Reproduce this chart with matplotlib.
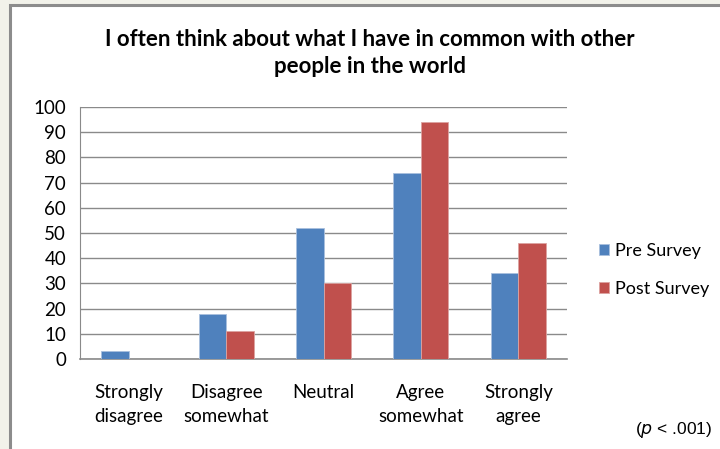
import matplotlib.pyplot as plt
import numpy as np
from matplotlib.patches import Rectangle

categories = ['Strongly\ndisagree', 'Disagree\nsomewhat', 'Neutral', 'Agree\nsomewhat', 'Strongly\nagree']
pre_survey = [3, 18, 52, 74, 34]
post_survey = [0, 11, 30, 94, 46]
yticks = list(range(0, 101, 10))

plt.rcParams['font.family'] = ['Lato', 'DejaVu Sans']

fig = plt.figure(figsize=(7.2, 4.49), dpi=100)
fig.patch.set_facecolor('#f2f2ea')

# white chart panel with grey frame, behind the axes
fig.patches.append(Rectangle((10 / 720, -0.05), 1.0, 1 - 5 / 449 + 0.05,
                             transform=fig.transFigure, facecolor='white',
                             edgecolor='#8c8c8c', linewidth=2.2, zorder=-5))

ax = fig.add_axes([80 / 720, 1 - 359 / 449, 487 / 720, 252 / 449])
ax.set_facecolor('white')

x = np.arange(len(categories))
w = 0.283
ax.bar(x - w / 2, pre_survey, w, color='#4f81bd', edgecolor='#a9c0de', linewidth=0.6,
       label='Pre Survey', zorder=3)
ax.bar(x + w / 2, post_survey, w, color='#c0504d', edgecolor='#dca3a1', linewidth=0.6,
       label='Post Survey', zorder=3)

ax.set_xlim(-0.5, len(categories) - 0.5)
ax.set_ylim(0, 100)
ax.set_yticks(yticks)
ax.set_yticklabels([str(v) for v in yticks], fontsize=13.5)
ax.set_xticks(x)
ax.set_xticklabels(categories, fontsize=13.5, linespacing=1.5)
ax.tick_params(length=0, pad=10)
ax.tick_params(axis='x', pad=18)
ax.yaxis.grid(True, color='#8a8a8a', linewidth=1.0, zorder=1)
ax.set_axisbelow(True)
for s in ['top', 'right']:
    ax.spines[s].set_visible(False)
ax.spines['left'].set_color('#8a8a8a')
ax.spines['bottom'].set_color('#8a8a8a')
ax.spines['bottom'].set_linewidth(1.2)

fig.text(370 / 720, 1 - 53 / 449,
         'I often think about what I have in common with other\npeople in the world',
         ha='center', va='center', fontsize=16, fontweight='bold', linespacing=1.4)

ax.legend(loc='center left', bbox_to_anchor=(583 / 720, 1 - 270 / 449),
          bbox_transform=fig.transFigure, frameon=False, fontsize=13,
          handlelength=0.55, handleheight=0.55, handletextpad=0.3, labelspacing=1.25)

fig.text(712 / 720, 1 - 430 / 449, r'($\it{p}$ < .001)', ha='right', va='center',
         fontsize=12.5, family='Liberation Sans')

fig.savefig('out.png', dpi=100, facecolor=fig.get_facecolor())
